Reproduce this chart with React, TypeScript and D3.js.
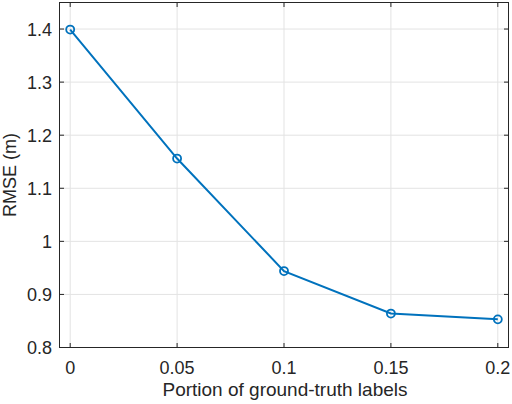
import React from "react";
import * as d3 from "d3";

const portions = [0, 0.05, 0.1, 0.15, 0.2];
const rmse = [1.399, 1.156, 0.944, 0.864, 0.853];
const xTicks = [0, 0.05, 0.1, 0.15, 0.2];
const xTickLabels = ["0", "0.05", "0.1", "0.15", "0.2"];
const yTicks = [0.8, 0.9, 1, 1.1, 1.2, 1.3, 1.4];
const yTickLabels = ["0.8", "0.9", "1", "1.1", "1.2", "1.3", "1.4"];

const W = 512, H = 404;
const L = 59.5, R = 508.5, T = 2.5, B = 347.5;
const font = "'Liberation Sans', Arial, Helvetica, sans-serif";
const axisColor = "#262626";
const lineColor = "#0072BD";

export default function App() {
  const x = d3.scaleLinear().domain([-0.005, 0.205]).range([L, R]);
  const y = d3.scaleLinear().domain([0.8, 1.45]).range([B, T]);
  const pts = portions.map((p, i) => [x(p), y(rmse[i])] as [number, number]);
  const line = d3.line()(pts) || "";
  const tl = 4.5;
  return (
    <svg width={W} height={H} style={{ position: "absolute", left: 0, top: 0, background: "#fff" }}>
      <rect x={0} y={0} width={W} height={H} fill="#fff" />
      {xTicks.map((t, i) => (
        <line key={"gx" + i} x1={x(t)} x2={x(t)} y1={T} y2={B} stroke="#e3e3e3" strokeWidth={1} />
      ))}
      {yTicks.map((t, i) => (
        <line key={"gy" + i} x1={L} x2={R} y1={y(t)} y2={y(t)} stroke="#e3e3e3" strokeWidth={1} />
      ))}
      <rect x={L} y={T} width={R - L} height={B - T} fill="none" stroke={axisColor} strokeWidth={1} />
      {xTicks.map((t, i) => (
        <g key={"tx" + i}>
          <line x1={x(t)} x2={x(t)} y1={B} y2={B - tl} stroke={axisColor} />
          <line x1={x(t)} x2={x(t)} y1={T} y2={T + tl} stroke={axisColor} />
          <text x={x(t)} y={374} textAnchor="middle" fontFamily={font} fontSize={18} fill={axisColor}>
            {xTickLabels[i]}
          </text>
        </g>
      ))}
      {yTicks.map((t, i) => (
        <g key={"ty" + i}>
          <line x1={L} x2={L + tl} y1={y(t)} y2={y(t)} stroke={axisColor} />
          <line x1={R} x2={R - tl} y1={y(t)} y2={y(t)} stroke={axisColor} />
          <text x={52} y={y(t) + 6.5} textAnchor="end" fontFamily={font} fontSize={18} fill={axisColor}>
            {yTickLabels[i]}
          </text>
        </g>
      ))}
      <text x={(L + R) / 2 + 1} y={396} textAnchor="middle" fontFamily={font} fontSize={19} fill={axisColor}>
        Portion of ground-truth labels
      </text>
      <text
        transform={`translate(16,${(T + B) / 2}) rotate(-90)`}
        textAnchor="middle"
        fontFamily={font}
        fontSize={18}
        fill={axisColor}
      >
        RMSE (m)
      </text>
      <path d={line} fill="none" stroke={lineColor} strokeWidth={2} />
      {pts.map((p, i) => (
        <circle key={"m" + i} cx={p[0]} cy={p[1]} r={4} fill="none" stroke={lineColor} strokeWidth={1.8} />
      ))}
    </svg>
  );
}
